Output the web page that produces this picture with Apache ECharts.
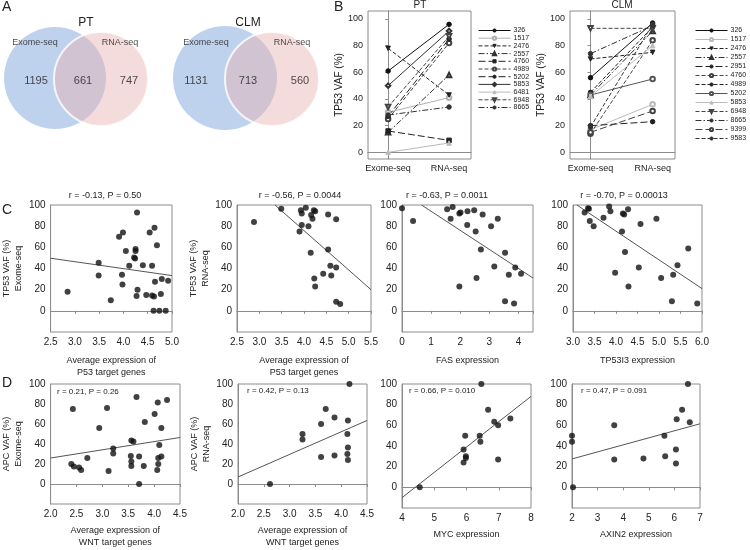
<!DOCTYPE html>
<html>
<head>
<meta charset="utf-8">
<script src="https://cdn.jsdelivr.net/npm/echarts@6/dist/echarts.min.js"></script>
<style>
html, body { margin: 0; padding: 0; background: #fff; }
#main { width: 750px; height: 550px; }
</style>
</head>
<body>
<div id="main"></div>
<script>
// ---------- data ----------
const vennSets = ['Exome-seq', 'RNA-seq'];
const ptVenn = [1195, 661, 747];   // exome only, both, RNA only
const clmVenn = [1131, 713, 560];

const bCats = ['Exome-seq', 'RNA-seq'];
const ptPatients = ['326', '1517', '2476', '2557', '4760', '4989', '5202', '5853', '6481', '6948', '8665'];
const ptExome = [61, 30, 78, 15, 16, 25, 27, 50, 0, 34, 28];
const ptRna   = [96, 41, 43, 58, 9, 82, 85, 91, 7, 87, 34];

const clmPatients = ['326', '1517', '2476', '2557', '2951', '4760', '4989', '5202', '5853', '6948', '8665', '9399', '9583'];
const clmExome = [56, 17, 70, 43, 20, 14, 45, 43, 42, 93, 74, 15, 19];
const clmRna   = [97, 36, 75, 91, 23, 84, 94, 55, 80, 93, 95, 31, 96];

// C: TP53 VAF vs expression
const c1x = [2.85, 3.49, 3.49, 3.74, 3.91, 3.99, 3.97, 3.98, 4.05, 4.12, 4.22, 4.24, 4.25, 4.25, 4.28, 4.27, 4.29, 4.40, 4.47, 4.54, 4.59, 4.59, 4.63, 4.62, 4.64, 4.65, 4.69, 4.74, 4.77, 4.79, 4.87, 4.92];
const c1y = [18, 45.5, 33.5, 10, 70, 74, 34, 25, 56.5, 42.5, 50.5, 49.5, 58.5, 56.5, 93, 14, 20, 43, 15, 74, 42.5, 14.5, 13.5, 0, 78.5, 27.5, 62, 0, 16, 30, 0, 28.5];
const c1Fit = [[2.5, 49.7], [5.0, 33.3]];

const c2x = [2.88, 3.49, 3.93, 3.95, 3.95, 3.90, 4.04, 4.10, 4.16, 4.19, 4.22, 4.25, 4.15, 4.23, 4.25, 4.43, 4.54, 4.54, 4.59, 4.61, 4.72, 4.72, 4.72, 4.81];
const c2y = [84, 96.5, 95, 92, 81, 75, 97.5, 80, 90.5, 87, 95, 94, 55, 30.5, 23, 35, 91, 58, 42.5, 33.5, 86.5, 41, 8.5, 6.5];
const c2Fit = [[3.35, 100], [5.5, 20]];

const c3x = [0, 0.38, 1.55, 1.74, 1.67, 1.97, 2.01, 2.25, 2.48, 2.24, 2.53, 2.77, 3.06, 3.29, 2.71, 3.17, 2.56, 1.97, 3.54, 3.89, 3.67, 4.09, 3.54, 3.85];
const c3y = [97, 85, 96, 98, 87, 92, 93, 94, 95, 81, 75, 91, 80, 87, 58, 42, 31, 23, 55, 41, 34, 35, 9, 7];
const c3Fit = [[0.67, 100], [4.5, 31]];

const c4x = [3.27, 3.35, 3.37, 3.39, 3.48, 3.71, 3.84, 3.87, 4.16, 4.19, 4.28, 4.14, 4.21, 3.98, 4.53, 4.29, 4.57, 4.94, 5.05, 5.33, 5.43, 5.68, 5.30, 5.89];
const c4y = [93, 97, 96.5, 85, 80, 88, 98.5, 94, 92, 91, 96, 75, 55.5, 36, 41, 23, 82, 87, 31, 34, 43, 59, 9, 7];
const c4Fit = [[3.09, 100], [6.0, 21]];

// D: APC VAF vs expression
const d1x = [2.43, 2.40, 2.45, 2.55, 2.59, 2.71, 2.94, 3.09, 3.12, 3.21, 3.21, 3.55, 3.56, 3.56, 3.56, 3.60, 3.66, 3.71, 3.71, 3.80, 3.82, 4.01, 4.06, 4.07, 4.08, 4.08, 4.10, 4.14, 4.14, 4.25];
const d1y = [75, 20, 17.5, 16.5, 14, 26, 56, 76, 13, 35.5, 30.5, 28, 22.5, 18, 43.5, 42.5, 87, 27.5, 0, 18, 62, 70, 14, 81.5, 26, 20, 39, 56, 27.5, 84];
const d1Fit = [[2.0, 26], [4.5, 46.5]];

const d2x = [2.62, 3.25, 3.25, 3.61, 3.61, 3.70, 3.87, 3.87, 4.13, 4.12, 4.13, 4.12, 4.13, 4.16];
const d2y = [0, 50, 44.5, 60, 27, 75, 66.5, 28.5, 63.5, 50, 36.5, 30, 24, 100];
const d2Fit = [[2.0, 7], [4.5, 63.5]];

const d3x = [4.55, 6.46, 6.67, 6.86, 6.98, 7.36, 5.96, 6.41, 6.43, 5.91, 5.98, 5.98, 5.91, 6.98];
const d3y = [0, 100, 75, 63.5, 60, 66.5, 50, 50, 44, 36.5, 30, 28.5, 24, 27];
const d3Fit = [[4, -10], [8, 88]];

const d4x = [2.0, 2.0, 2.04, 3.65, 3.65, 4.79, 5.61, 5.64, 6.06, 6.06, 6.09, 6.30, 6.53, 6.60];
const d4y = [50, 44, 0, 60, 27, 28, 50, 30, 36.5, 23, 66, 75, 100, 63];
const d4Fit = [[2, 27.5], [7, 61.5]];

// ---------- styles ----------
const FONT = 'Liberation Sans, Arial, sans-serif';
const TXT = '#222';
const BOX = '#8c8c8c';
const SOLID = 'solid', DASH = [4, 2], LDASH = [7, 3], DOT = [6, 2, 1.5, 2];

const ptStyles = [
    { t: SOLID, s: 'circle', c: '#111' },
    { t: SOLID, s: 'emptyCircle', c: '#b0b0b0' },
    { t: DASH, s: 'triangle', r: 180, c: '#222' },
    { t: DOT, s: 'emptyTriangle', c: '#333' },
    { t: LDASH, s: 'rect', c: '#222' },
    { t: DASH, s: 'emptyCircle', c: '#444' },
    { t: LDASH, s: 'circle', c: '#222' },
    { t: SOLID, s: 'emptyDiamond', c: '#333' },
    { t: SOLID, s: 'triangle', c: '#bbb' },
    { t: DASH, s: 'emptyTriangle', r: 180, c: '#444' },
    { t: DOT, s: 'circle', c: '#333' }
];
const clmStyles = [
    { t: SOLID, s: 'circle', c: '#111' },
    { t: SOLID, s: 'emptyCircle', c: '#bbb' },
    { t: DASH, s: 'triangle', r: 180, c: '#222' },
    { t: DOT, s: 'emptyTriangle', c: '#333' },
    { t: LDASH, s: 'circle', c: '#222' },
    { t: DASH, s: 'emptyCircle', c: '#444' },
    { t: DASH, s: 'circle', c: '#222' },
    { t: SOLID, s: 'emptyCircle', c: '#555' },
    { t: SOLID, s: 'triangle', c: '#bbb' },
    { t: DASH, s: 'emptyTriangle', r: 180, c: '#444' },
    { t: DOT, s: 'circle', c: '#333' },
    { t: LDASH, s: 'emptyCircle', c: '#444' },
    { t: DASH, s: 'circle', c: '#333' }
];

// ---------- builders ----------
const grids = [], xAxes = [], yAxes = [], series = [], titles = [], legends = [];

function addGrid(box, show) {
    grids.push({ left: box[0], top: box[1], width: box[2], height: box[3],
        show: show, borderColor: BOX, borderWidth: 1 });
    return grids.length - 1;
}

function txt(size) {
    return { fontFamily: FONT, fontSize: size, color: TXT };
}

function addTitle(text, left, top, size, align) {
    titles.push({ text: text, left: left, top: top, textAlign: align || 'left',
        padding: 0, textStyle: Object.assign(txt(size), { fontWeight: 'normal' }) });
}

// Venn panel, laid out in pixel units on a hidden grid
function venn(counts, title, geo) {
    const gi = addGrid([0, 0, 750, 200], false);
    xAxes.push({ gridIndex: gi, type: 'value', min: 0, max: 750, show: false });
    yAxes.push({ gridIndex: gi, type: 'value', min: 0, max: 200, inverse: true, show: false });
    series.push({
        type: 'scatter', xAxisIndex: gi, yAxisIndex: gi, silent: true, z: 1,
        data: [
            { value: geo.a, symbolSize: geo.ra * 2, itemStyle: { color: '#afc7e9' } },
            { value: geo.b, symbolSize: geo.rb * 2,
              itemStyle: { color: 'rgba(232,176,176,0.55)', borderColor: '#fff', borderWidth: 2 } }
        ]
    });
    const lbl = (pos, text, size) => ({ value: pos, name: text,
        label: { show: true, position: 'inside', formatter: '{b}', ...txt(size) } });
    series.push({
        type: 'scatter', xAxisIndex: gi, yAxisIndex: gi, silent: true, z: 3, symbolSize: 0,
        data: [
            lbl(geo.n[0], String(counts[0]), 11),
            lbl(geo.n[1], String(counts[1]), 11),
            lbl(geo.n[2], String(counts[2]), 11),
            lbl(geo.s[0], vennSets[0], 9),
            lbl(geo.s[1], vennSets[1], 9)
        ]
    });
    addTitle(title, geo.t[0], geo.t[1], 12, 'center');
}

function pairPanel(box, names, ex, rna, styles, yName, nameGap, legendPos, legendGap) {
    const gi = addGrid(box, true);
    xAxes.push({ gridIndex: gi, type: 'value', min: -0.33, max: 1.36,
        axisLine: { lineStyle: { color: BOX } }, axisTick: { show: false }, splitLine: { show: false },
        axisLabel: { customValues: [0, 1], formatter: v => bCats[Math.round(v)], margin: 5, ...txt(9) } });
    yAxes.push({ gridIndex: gi, type: 'value', min: -5, max: 106,
        name: yName, nameLocation: 'middle', nameGap: nameGap, nameTextStyle: txt(10),
        axisLine: { lineStyle: { color: BOX } }, splitLine: { show: false },
        axisTick: { customValues: [0, 20, 40, 60, 80, 100], length: 3, lineStyle: { color: BOX } },
        axisLabel: { customValues: [0, 20, 40, 60, 80, 100], margin: 5, ...txt(9) } });
    const legendNames = [];
    names.forEach((n, i) => {
        const st = styles[i];
        const nm = n + (legendPos.tag || '');
        legendNames.push(nm);
        series.push({
            type: 'line', name: nm, xAxisIndex: gi, yAxisIndex: gi,
            data: [[0, ex[i]], [1, rna[i]]],
            symbol: st.s, symbolRotate: st.r || 0, symbolSize: 4.5, showSymbol: true,
            lineStyle: { color: st.c, width: 1, type: st.t },
            itemStyle: { color: st.c, borderColor: st.c, borderWidth: 1 }
        });
    });
    legends.push({
        data: legendNames, orient: 'vertical', left: legendPos.left, top: legendPos.top,
        itemWidth: 32, itemHeight: 4, itemGap: legendGap, selectedMode: false, padding: 0,
        lineStyle: { width: 1 },
        itemStyle: { borderWidth: 1 },
        formatter: name => name.replace(/\u200b/g, ''),
        textStyle: { fontFamily: FONT, fontSize: 7, color: TXT, lineHeight: 6, padding: [0, 0, 0, -2] }
    });
}

function scatterPanel(box, xs, ys, fit, xr, digits, xName, yName, xGap, yGap) {
    const gi = addGrid(box, true);
    const onStep = v => Math.abs((v - xr[0]) / xr[2] - Math.round((v - xr[0]) / xr[2])) < 1e-6;
    xAxes.push({ gridIndex: gi, type: 'value', min: xr[0], max: xr[1], interval: xr[2],
        name: xName, nameLocation: 'middle', nameGap: xGap, nameTextStyle: Object.assign(txt(9), { lineHeight: 12 }),
        axisLine: { lineStyle: { color: BOX } }, splitLine: { show: false },
        axisTick: { length: 3, lineStyle: { color: BOX } },
        axisLabel: { formatter: v => (onStep(v) ? v.toFixed(digits) : ''), margin: 5, ...txt(10) } });
    yAxes.push({ gridIndex: gi, type: 'value', min: -20, max: 100, interval: 20,
        name: yName, nameLocation: 'middle', nameGap: yGap, nameTextStyle: Object.assign(txt(9), { lineHeight: 12 }),
        axisLine: { lineStyle: { color: BOX } }, splitLine: { show: false },
        axisTick: { show: false },
        axisLabel: { formatter: v => (v < 0 ? '' : String(v)), margin: 5, ...txt(10) } });
    series.push({ type: 'scatter', xAxisIndex: gi, yAxisIndex: gi, symbolSize: 6,
        itemStyle: { color: '#111' }, data: xs.map((x, i) => [x, ys[i]]) });
    series.push({ type: 'line', xAxisIndex: gi, yAxisIndex: gi, data: fit, symbol: 'none',
        silent: true, z: 1, lineStyle: { color: '#555', width: 1 } });
}

// ---------- panels ----------
addTitle('A', 2, 0, 14);
venn(ptVenn, 'PT', { a: [55, 78], ra: 51, b: [101, 79], rb: 47,
    n: [[36, 81], [83, 81], [129, 81]], s: [[35, 43], [120, 43]], t: [86, 17] });
venn(clmVenn, 'CLM', { a: [225, 78], ra: 52, b: [272, 79], rb: 47,
    n: [[196, 81], [248, 81], [300, 81]], s: [[206, 43], [292, 43]], t: [248, 17] });

addTitle('B', 334, 0, 14);
addTitle('PT', 420, 0, 10, 'center');
addTitle('CLM', 622, 0, 10, 'center');
pairPanel([368, 11, 103, 148], ptPatients, ptExome, ptRna, ptStyles, 'TP53 VAF (%)', 20,
    { left: 478, top: 27 }, 0.7);
pairPanel([570, 11, 105, 148], clmPatients, clmExome, clmRna, clmStyles, 'TP53 VAF (%)', 17,
    { left: 695, top: 27, tag: '\u200b' }, 2.0);

addTitle('C', 2, 203, 14);
addTitle('r = -0.13, P = 0.50', 105, 191, 9, 'center');
addTitle('r = -0.56, P = 0.0044', 300, 191, 9, 'center');
addTitle('r = -0.63, P = 0.0011', 447, 191, 9, 'center');
addTitle('r = -0.70, P = 0.00013', 624, 191, 9, 'center');
scatterPanel([47, 205, 125, 127], c1x, c1y, c1Fit, [2.5, 5.0, 0.5], 1,
    'Average expression of\nP53 target genes', 'TP53 VAF (%)\nExome-seq', 23, 17);
scatterPanel([237, 205, 134, 127], c2x, c2y, c2Fit, [2.5, 5.5, 0.5], 1,
    'Average expression of\nP53 target genes', 'TP53 VAF (%)\nRNA-seq', 23, 17);
scatterPanel([402, 205, 131, 127], c3x, c3y, c3Fit, [0, 4.5, 1], 0,
    'FAS expression', '', 23, 20);
scatterPanel([573, 205, 129, 127], c4x, c4y, c4Fit, [3.0, 6.0, 0.5], 1,
    'TP53I3 expression', '', 23, 20);

addTitle('D', 2, 376, 14);
addTitle('r = 0.21, P = 0.26', 57, 388, 8);
addTitle('r = 0.42, P = 0.13', 247, 387, 8);
addTitle('r = 0.66, P = 0.010', 409, 387, 8);
addTitle('r = 0.47, P = 0.091', 581, 387, 8);
scatterPanel([49, 384, 131, 124], d1x, d1y, d1Fit, [2.0, 4.5, 0.5], 1,
    'Average expression of\nWNT target genes', 'APC VAF (%)\nExome-seq', 21, 15);
scatterPanel([238, 384, 129, 124], d2x, d2y, d2Fit, [2.0, 4.5, 0.5], 1,
    'Average expression of\nWNT target genes', 'APC VAF (%)\nRNA-seq', 21, 18);
scatterPanel([402, 384, 129, 124], d3x, d3y, d3Fit, [4, 8, 1], 0,
    'MYC expression', '', 21, 20);
scatterPanel([572, 384, 128, 124], d4x, d4y, d4Fit, [2, 7, 1], 0,
    'AXIN2 expression', '', 21, 20);

const chart = echarts.init(document.getElementById('main'));
chart.setOption({
    backgroundColor: '#fff',
    animation: false,
    title: titles,
    legend: legends,
    grid: grids,
    xAxis: xAxes,
    yAxis: yAxes,
    series: series
});
</script>
</body>
</html>
